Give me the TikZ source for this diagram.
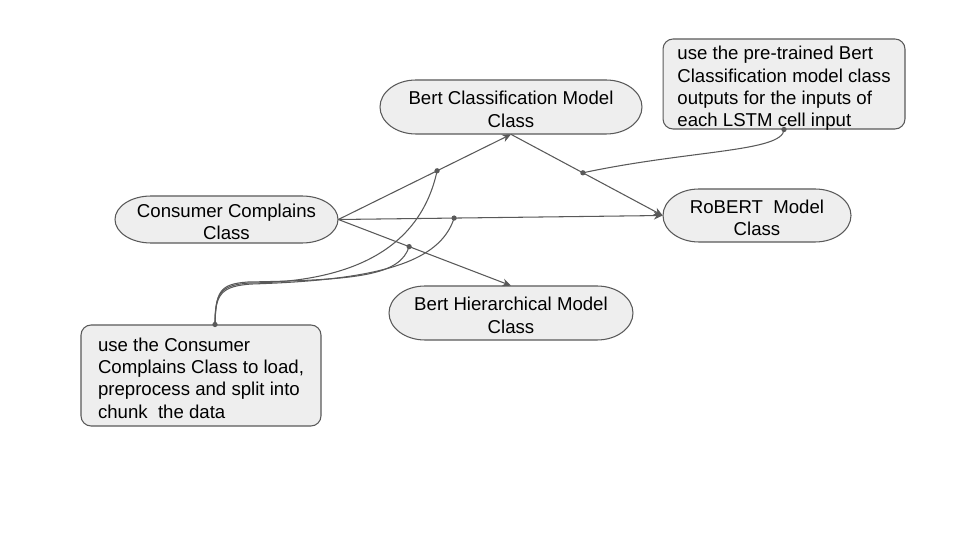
\documentclass[tikz,border=0pt]{standalone}
\usepackage{fontspec}
\setmainfont{Liberation Sans}
\usetikzlibrary{arrows.meta}
\definecolor{shfill}{HTML}{EEEEEE}
\definecolor{shline}{HTML}{595959}
\tikzset{
  shp/.style={fill=shfill, draw=shline, line width=0.6pt},
  lbl/.style={inner sep=0pt, font=\fontsize{10.6}{12.7}\selectfont},
  note/.style={shp, rounded corners=0.2cm, inner sep=0pt, font=\fontsize{10.6}{12.7}\selectfont},
  conn/.style={draw=shline, line width=0.6pt},
  arr/.style={conn, -{Stealth[length=5pt,width=4.5pt]}},
}
\newcommand\ctext[1]{\raisebox{-5.3pt}[0pt][0pt]{\begin{tabular}{@{}c@{}}#1\end{tabular}}}
\newcommand\ltext[1]{\raisebox{-5.5pt}[0pt][0pt]{\begin{tabular}{@{}l@{}}#1\end{tabular}}}
\newcommand\stadium[6]{%
  \pgfmathsetmacro\sry{(#5-#3)/2*0.02}%
  \path[shp] (#2+36,-#3) -- (#4-36,-#3) arc[start angle=90,end angle=-90,x radius=0.72cm,y radius=\sry cm] -- (#2+36,-#5) arc[start angle=270,end angle=90,x radius=0.72cm,y radius=\sry cm] -- cycle;
  \pgfmathsetmacro\sw{(#4-#2)*0.02}\pgfmathsetmacro\sh{(#5-#3)*0.02}%
  \node[lbl, minimum width=\sw cm, minimum height=\sh cm] (#1) at ({(#2+#4)/2},{-(#3+#5)/2}) {\ctext{#6}};
}
\begin{document}
\begin{tikzpicture}[x=0.02cm,y=0.02cm]
\useasboundingbox[fill=white] (0,0) rectangle (960,-540);

\stadium{cc}{115}{196}{338}{243}{Consumer Complains\\Class}
\stadium{bc}{380}{80}{642}{134}{Bert Classification Model\\Class}
\stadium{rb}{663}{189}{851}{242}{RoBERT\ \ Model\\Class}
\stadium{bh}{389}{286}{633}{340}{Bert Hierarchical Model\\Class}

\node[note, minimum width=4.84cm, minimum height=1.8cm] (n1) at (784,-84)
  {\ltext{use the pre-trained Bert\\Classification model class\\outputs for the inputs of\\each LSTM cell input}};
\node[note, minimum width=4.8cm, minimum height=2.02cm] (n2) at (201,-375.5)
  {\ltext{use the Consumer\\Complains Class to load,\\preprocess and split into\\chunk\ \ the data}};

\draw[arr] (cc.east) -- coordinate[pos=0.572] (d1) (bc.south);
\draw[arr] (cc.east) -- coordinate[pos=0.357] (d2) (rb.west);
\draw[arr] (cc.east) -- coordinate[pos=0.41] (d3) (bh.north);
\draw[arr] (bc.south) -- coordinate[pos=0.474] (d4) (rb.west);

\coordinate (s2) at ([xshift=0.28cm]n2.north);
\draw[conn] (s2) .. controls (215,-293) and (220,-285) .. (250,-283)
  .. controls (350,-282) and (420,-250) .. (d1);
\draw[conn] (s2) .. controls (215,-294) and (221,-286) .. (252,-284)
  .. controls (380,-280) and (440,-262) .. (d2);
\draw[conn] (s2) .. controls (216,-292) and (219,-284) .. (248,-282)
  .. controls (360,-280) and (400,-275) .. (d3);
\draw[conn] (n1.south) .. controls (783,-152) and (690,-150) .. (d4);

\foreach \p in {d1,d2,d3,d4,s2,n1.south} \fill[shline] (\p) circle (1.5pt);
\end{tikzpicture}
\end{document}
